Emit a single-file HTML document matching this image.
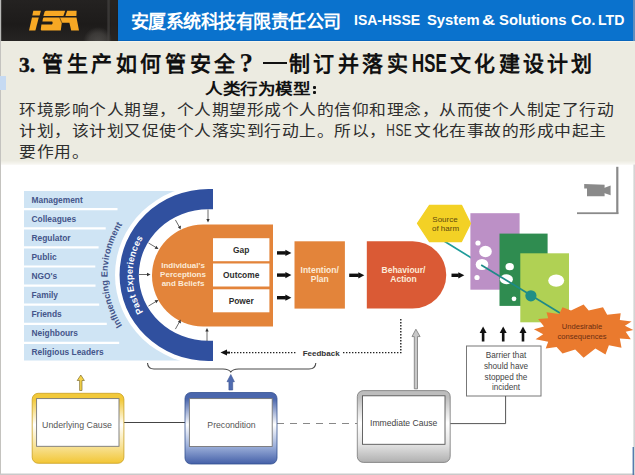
<!DOCTYPE html>
<html lang="zh-CN">
<head>
<meta charset="utf-8">
<style>
html,body{margin:0;padding:0;}
body{width:635px;height:475px;position:relative;overflow:hidden;background:#ECEBE1;font-family:"Liberation Sans",sans-serif;}
.abs{position:absolute;white-space:nowrap;}
#hdark{left:0;top:0;width:118px;height:40.5px;background:linear-gradient(180deg,#242221 0%,#1d1b1a 60%,#262423 100%);}
#hblue{left:118px;top:0;width:515px;height:41px;background:#0A72CD;box-shadow:inset 0 -1px 0 #0865BC;border-bottom:1.5px solid #F6F4EA;}
#hedge{left:633px;top:0;width:2px;height:41px;background:#5d8fc0;}
.cn{color:#fff;font-weight:bold;font-size:18px;letter-spacing:-0.55px;}
.en{color:#fff;font-weight:bold;font-size:14px;}
#title,#title1b,#title2{top:47px;font-size:21px;font-weight:bold;color:#111;letter-spacing:3.6px;}
#title2{letter-spacing:3.3px;}
#sub{left:204.5px;top:77px;font-size:15px;font-weight:bold;color:#111;letter-spacing:0px;transform:scaleX(1.17);transform-origin:0 0;}
.p{left:19px;font-size:15px;color:#2e2e2e;letter-spacing:0.63px;transform:scaleX(1.12);transform-origin:0 0;}
</style>
</head>
<body>
<div id="hdark" class="abs"></div>
<div id="hblue" class="abs"></div>
<div id="hedge" class="abs"></div>
<!-- ISA logo -->
<svg class="abs" style="left:0;top:0" width="118" height="41" viewBox="0 0 118 41">
  <defs>
    <radialGradient id="glare" cx="98" cy="42" r="15" gradientUnits="userSpaceOnUse">
      <stop offset="0" stop-color="#5a5855" stop-opacity="0.7"/><stop offset="0.6" stop-color="#5a5855" stop-opacity="0.45"/>
      <stop offset="1" stop-color="#5a5855" stop-opacity="0"/>
    </radialGradient>
  </defs>
  <rect x="70" y="15" width="48" height="26" fill="url(#glare)"/>
  <rect x="107.6" y="0" width="1" height="41" fill="#4a4846"/><rect x="109.3" y="0" width="0.8" height="41" fill="#3e3c3a"/><rect x="111" y="0" width="6.5" height="41" fill="#2a2420" opacity="0.6"/>
  <rect x="0" y="0" width="1.2" height="41" fill="#b8b8b6"/>
  <g fill="#F7A824">
    <polygon points="33.3,10.8 40.9,10.8 39.6,15.6 32.3,15.6"/>
    <polygon points="32,17.4 38.8,17.4 35.4,30.6 29,30.6"/>
    <path d="M 46.6 10.8 L 65.2 10.8 L 63.4 16 L 43.4 16 L 44.6 11.8 Q 45 10.8 46.6 10.8 Z"/>
    <polygon points="67.2,10.8 76.6,10.8 76.4,16 65.4,16"/>
    <path d="M 44.3 17.5 L 76.5 17.5 L 79 30.6 L 71.2 30.6 L 69.4 22.8 L 61.8 22.8 L 60.8 30.6 L 41.9 30.6 Q 40.6 30.6 40.8 29.2 L 41.4 24.4 L 52 24.4 Q 53.4 22.9 52.2 21.4 L 42.4 21.4 L 42.9 18.8 Q 43.1 17.5 44.3 17.5 Z"/>
  </g>
  <line x1="59.6" y1="17.4" x2="61.8" y2="22.8" stroke="#3a2a10" stroke-width="0.7"/>
</svg>
<div class="abs cn" style="left:131px;top:7px;">安厦系统科技有限责任公司</div>
<div class="abs en" style="left:354px;top:12px;">ISA-HSSE</div>
<div class="abs en" style="left:426.5px;top:12px;transform:scaleX(1.055);transform-origin:0 0;">System</div>
<div class="abs en" style="left:482px;top:12px;transform:scaleX(1.3);transform-origin:0 0;">&amp;</div>
<div class="abs en" style="left:498.5px;top:12px;transform:scaleX(1.06);transform-origin:0 0;">Solutions</div>
<div class="abs en" style="left:570.5px;top:12px;transform:scaleX(1.08);transform-origin:0 0;">Co.</div>
<div class="abs en" style="left:598px;top:12px;transform:scaleX(1.01);transform-origin:0 0;">LTD</div>
<div class="abs" style="left:0;top:41px;width:1px;height:434px;background:#c4c3bf;"></div>
<div class="abs" style="left:0;top:76px;width:6px;height:14px;background:#C6DAF2;"></div>

<div class="abs" style="left:19px;top:53px;font-family:'Liberation Serif',serif;font-size:21.5px;font-weight:bold;color:#111;-webkit-text-stroke:0.5px #111;">3.</div>
<div id="title" class="abs" style="left:42px;">管生产如何管安全</div>
<div class="abs" style="left:239.5px;top:48px;font-family:'Liberation Serif',serif;font-size:27px;font-weight:bold;color:#111;">?</div>
<div class="abs" style="left:262.8px;top:61.8px;width:24px;height:2.6px;background:#111;"></div>
<div id="title1b" class="abs" style="left:288.5px;">制订并落实</div>
<div class="abs" style="left:412px;top:49px;font-size:25.5px;font-weight:bold;color:#111;transform:scaleX(0.66);transform-origin:0 0;">HSE</div>
<div id="title2" class="abs" style="left:450px;">文化建设计划</div>
<div id="sub" class="abs">人类行为模型</div>
<div class="abs" style="left:313px;top:86.3px;width:3px;height:2.4px;border-radius:1px;background:#111;"></div><div class="abs" style="left:313px;top:91.4px;width:3px;height:2.4px;border-radius:1px;background:#111;"></div>
<div class="abs p" style="top:98px;">环境影响个人期望，个人期望形成个人的信仰和理念，从而使个人制定了行动</div>
<div class="abs p" style="top:119px;">计划，该计划又促使个人落实到行动上。所以，<span style="display:inline-block;font-size:15.8px;transform:scaleX(0.67);transform-origin:0 0;margin-right:-9.9px;">HSE</span>文化在事故的形成中起主</div>
<div class="abs p" style="top:140px;">要作用。</div>

<!-- diagram -->
<svg class="abs" style="left:0;top:0" width="635" height="475" viewBox="0 0 635 475" font-family="Liberation Sans, sans-serif">
  <defs><linearGradient id="redge" x1="0" y1="0" x2="1" y2="0"><stop offset="0" stop-color="#ececec"/><stop offset="1" stop-color="#cdcdcd"/></linearGradient>
  <linearGradient id="tedge" x1="0" y1="0" x2="0" y2="1"><stop offset="0" stop-color="#ECEBE1"/><stop offset="1" stop-color="#F8F7F2"/></linearGradient></defs>
  <rect x="1" y="160.5" width="634" height="4" fill="url(#tedge)"/>
  <rect x="1" y="164.5" width="634" height="310.5" fill="#fff"/>
  <rect x="633" y="164.5" width="2" height="310.5" fill="url(#redge)"/>
  <rect x="0" y="473.5" width="635" height="1.5" fill="#c9c9c9"/>
  <!-- light blue influencing block -->
  <rect x="24" y="191" width="190" height="169.5" fill="#CFE4F4"/>
  <ellipse cx="208.5" cy="275.0" rx="93.5" ry="90" fill="#fff"/>
  <g stroke="#fff" stroke-width="2.2">
    <line x1="24" y1="209.2" x2="117.5" y2="209.2"/>
    <line x1="24" y1="228.3" x2="105.7" y2="228.3"/>
    <line x1="24" y1="247.4" x2="98.6" y2="247.4"/>
    <line x1="24" y1="266.5" x2="95.3" y2="266.5"/>
    <line x1="24" y1="285.6" x2="95.5" y2="285.6"/>
    <line x1="24" y1="304.7" x2="99.2" y2="304.7"/>
    <line x1="24" y1="323.8" x2="106.8" y2="323.8"/>
    <line x1="24" y1="342.9" x2="119.2" y2="342.9"/>
  </g>
  <g fill="#44558A" font-size="8.4" font-weight="bold">
    <text x="31.5" y="202.5">Management</text>
    <text x="31.5" y="221.6">Colleagues</text>
    <text x="31.5" y="240.7">Regulator</text>
    <text x="31.5" y="259.8">Public</text>
    <text x="31.5" y="278.9">NGO's</text>
    <text x="31.5" y="298">Family</text>
    <text x="31.5" y="317.1">Friends</text>
    <text x="31.5" y="336.2">Neighbours</text>
    <text x="31.5" y="355.3">Religious Leaders</text>
  </g>
  <path id="arcInf" d="M 158.0 359.0 A 101.0 97.0 0 0 1 158.0 191.0" fill="none"/>
  <text fill="#44558A" font-size="9.1" font-weight="bold" letter-spacing="0"><textPath href="#arcInf" startOffset="50%" text-anchor="middle">Influencing Environment</textPath></text>
  <!-- dark blue ring -->
  <path d="M 213 189.0 L 208.5 189.0 A 89.0 86.0 0 0 0 208.5 361.0 L 213 361.0 L 213 340.8 L 208.5 340.8 A 69.7 65.8 0 0 1 208.5 209.2 L 213 209.2 Z" fill="#30509F"/>
  <path id="arcPast" d="M 170.5 337.8 A 76.0 72.5 0 0 1 170.5 212.2" fill="none"/>
  <text fill="#fff" font-size="9.2" font-weight="bold" letter-spacing="0.15"><textPath href="#arcPast" startOffset="50%" text-anchor="middle">Past Experiences</textPath></text>
  <!-- orange perceptions -->
  <path d="M 273 224.5 L 203 224.5 A 51 51 0 0 0 203 326.5 L 273 326.5 Z" fill="#E3843A"/>
  <g fill="#fff">
    <rect x="213" y="238.2" width="56.4" height="23"/>
    <rect x="213" y="263.5" width="56.4" height="23"/>
    <rect x="213" y="289.3" width="56.4" height="23"/>
  </g>
  <g fill="#2e2e2e" font-size="8.4" font-weight="bold" text-anchor="middle">
    <text x="241.2" y="253">Gap</text>
    <text x="241.2" y="278.3">Outcome</text>
    <text x="241.2" y="303.5">Power</text>
  </g>
  <g fill="#FCEBD8" font-size="8" font-weight="bold" text-anchor="middle">
    <text x="183" y="267.6">Individual's</text>
    <text x="183" y="277">Perceptions</text>
    <text x="183" y="286">and Beliefs</text>
  </g>
  <!-- small arrows from ring -->
  <g stroke="#444" stroke-width="0.8" fill="none">
    <line x1="208" y1="209.5" x2="208" y2="219.5"/>
    <line x1="175.4" y1="219.9" x2="179.4" y2="227"/>
    <line x1="148.5" y1="243" x2="155.5" y2="247.2"/>
    <line x1="139" y1="274.5" x2="147.5" y2="274.5"/>
    <line x1="148.5" y1="306" x2="155.5" y2="301.8"/>
    <line x1="175.4" y1="329.1" x2="179.4" y2="322"/>
    <line x1="207" y1="341" x2="207" y2="331"/>
  </g>
  <g fill="#333">
    <polygon points="206.3,219 209.7,219 208,222.5"/>
    <polygon points="177.9,227.2 180.9,225.6 180.6,229.4"/>
    <polygon points="154.6,248.8 156.3,245.8 158.5,249"/>
    <polygon points="147,272.8 147,276.2 150.5,274.5"/>
    <polygon points="154.6,300.2 156.3,303.2 158.5,300"/>
    <polygon points="177.9,321.8 180.9,323.4 180.6,319.6"/>
    <polygon points="205.3,331.5 208.7,331.5 207,328"/>
  </g>
  <!-- black arrows -->
  <g fill="#111">
    <rect x="277.0" y="251.2" width="8.9" height="3.4"/><polygon points="285.4,249.8 291.4,252.9 285.4,256.0"/>
    <rect x="277.0" y="273.4" width="8.9" height="3.4"/><polygon points="285.4,272.0 291.4,275.1 285.4,278.2"/>
    <rect x="277.0" y="296.0" width="8.9" height="3.4"/><polygon points="285.4,294.6 291.4,297.7 285.4,300.8"/>
    <rect x="349.2" y="273.6" width="9.6" height="3.4"/><polygon points="358.3,272.2 364.3,275.3 358.3,278.4"/>
    <rect x="451.5" y="273.6" width="7.3" height="3.4"/><polygon points="458.3,272.2 464.3,275.3 458.3,278.4"/>
  </g>
  <!-- intention -->
  <rect x="294.5" y="241.3" width="50.4" height="67.3" fill="#E3843A"/>
  <g fill="#FCEBD8" font-size="8.5" font-weight="bold" text-anchor="middle">
    <text x="319.7" y="273">Intention/</text>
    <text x="319.7" y="282">Plan</text>
  </g>
  <!-- behaviour -->
  <path d="M 366.8 241.3 L 412.6 241.3 A 33.65 33.65 0 0 1 412.6 308.6 L 366.8 308.6 Z" fill="#DA5A35"/>
  <g fill="#FCEBD8" font-size="8.5" font-weight="bold" text-anchor="middle">
    <text x="403.5" y="273">Behaviour/</text>
    <text x="403.5" y="282">Action</text>
  </g>
  <!-- teal line -->
  <line x1="444" y1="241" x2="472" y2="258.3" stroke="#1F9C9A" stroke-width="1.7"/>
  <!-- plates -->
  <rect x="470.4" y="213.2" width="49.2" height="76.5" fill="#BC90C6"/>
  <g fill="#fff">
    <circle cx="478" cy="243" r="2.6"/>
    <ellipse cx="485.5" cy="251.5" rx="6.3" ry="5.8"/>
    <ellipse cx="482" cy="264.5" rx="6.3" ry="5.5"/>
    <circle cx="477" cy="277.5" r="2.6"/>
  </g>
  <rect x="499.5" y="233.6" width="48.1" height="72.3" fill="#2F8C50"/>
  <g fill="#fff">
    <ellipse cx="509.7" cy="266.7" rx="4.2" ry="3.6"/>
    <ellipse cx="506.4" cy="279.3" rx="6.5" ry="5"/>
    <circle cx="514" cy="298.8" r="2.4"/>
  </g>
  <rect x="520.3" y="253.3" width="48.7" height="69" fill="#B0D154"/>
  <ellipse cx="556.2" cy="280.6" rx="8" ry="6.2" fill="#fff"/>
  <line x1="481.2" y1="265" x2="562" y2="314.2" stroke="#1E8A88" stroke-width="1.8"/>
  <circle cx="530.9" cy="295.8" r="5.6" fill="#1F8F86"/>
  <!-- hexagon -->
  <polygon points="417.5,223.4 429.5,205.3 461.5,205.3 470.5,223.4 461.5,241.6 429.5,241.6" fill="#F3D125" stroke="#F3D125" stroke-width="1.2" stroke-linejoin="round"/>
  <g fill="#5E4A0E" font-size="8" text-anchor="middle">
    <text x="445" y="221.5">Source</text>
    <text x="445.5" y="231">of harm</text>
  </g>
  <!-- explosion -->
  <polygon id="boom" fill="#EA7A2E" points="533.9,329.2 544.0,326.6 538.1,319.1 548.2,318.2 546.5,312.3 559.2,314.0 562.5,307.3 571.0,310.6 583.6,304.4 588.7,310.6 603.0,307.3 607.2,314.8 620.7,313.2 619.8,319.9 631.6,321.6 624.9,325.8 633.3,330.0 625.7,331.7 630.8,339.3 619.8,338.4 621.5,347.7 608.9,345.2 605.5,354.4 595.4,348.5 583.6,357.8 575.2,349.4 562.5,353.6 556.6,346.9 545.7,348.5 548.2,341.8 535.6,339.3 543.2,334.2"/>
  <g fill="#6A2E12" font-size="7.6" text-anchor="middle">
    <text x="582" y="329.3">Undesirable</text>
    <text x="582" y="338.8">consequences</text>
  </g>
  <!-- camera -->
  <g fill="#8A8A8A">
    <polygon points="584.2,184 604.6,184.8 604.6,196.2 587,196.2 587,188.6 584.2,188.6"/>
    <polygon points="604,188 610.6,185.6 610.6,195.2 604,193"/>
    <rect x="616.2" y="166.8" width="2.2" height="47"/>
    <rect x="577" y="212.3" width="41.4" height="1.8"/>
  </g>
  <!-- three up arrows -->
  <g fill="#111">
    <rect x="481.8" y="331.5" width="2.6" height="10"/><polygon points="479.6,333 483.1,326.6 486.6,333"/>
    <rect x="501.9" y="331.5" width="2.6" height="10"/><polygon points="499.7,333 503.2,326.6 506.7,333"/>
    <rect x="521.7" y="331.5" width="2.6" height="10"/><polygon points="519.5,333 523,326.6 526.5,333"/>
  </g>
  <!-- barrier box -->
  <rect x="466.5" y="346" width="74.5" height="50" fill="#fff" stroke="#777" stroke-width="1"/>
  <g fill="#444" font-size="8.2" text-anchor="middle">
    <text x="506" y="358">Barrier that</text>
    <text x="506" y="368.7">should have</text>
    <text x="506" y="379.6">stopped the</text>
    <text x="506" y="390">incident</text>
  </g>
  <!-- brace -->
  <path d="M 147.5 363 Q 147.8 369 154 369 L 223 369 Q 229 369.2 230.8 372 Q 232.6 369.2 238.6 369 L 309 369 Q 315.5 369 315.8 363" fill="none" stroke="#4a4a4a" stroke-width="1.1"/>
  <!-- feedback -->
  <polygon points="220.5,352.6 227,349.6 227,355.6" fill="#111"/>
  <rect x="226" y="351.6" width="4" height="2" fill="#111"/>
  <line x1="231" y1="352.6" x2="296" y2="352.6" stroke="#222" stroke-width="1.4" stroke-dasharray="1.4,1.6"/>
  <text x="302.7" y="355.5" fill="#333" font-size="8" font-weight="bold">Feedback</text>
  <path d="M 343 352.6 L 400.8 352.6 L 400.8 317.5" fill="none" stroke="#222" stroke-width="1.4" stroke-dasharray="1.4,1.6"/>
  <!-- gray hollow arrow -->
  <path d="M 414.3 388.8 L 414.3 336.6 L 412 336.6 L 415.9 329.2 L 420.1 336.6 L 417.5 336.6 L 417.5 388.8 Z" fill="#c8c8c8" stroke="#777" stroke-width="0.8"/>
  <!-- blue arrow -->
  <path d="M 228.9 390 L 228.9 381.7 L 227 381.7 L 230.8 374.5 L 234.4 381.7 L 232.7 381.7 L 232.7 390 Z" fill="#4F6BB0" stroke="#3a5190" stroke-width="0.6"/>
  <!-- yellow arrow -->
  <path d="M 79.6 390.5 L 79.6 380.5 L 77.2 380.5 L 80.8 375 L 84.4 380.5 L 82 380.5 L 82 390.5 Z" fill="#F6D34A" stroke="#6a5a20" stroke-width="0.6"/>
  <!-- bottom boxes -->
  <defs>
    <linearGradient id="gy" x1="0" y1="0" x2="0" y2="1">
      <stop offset="0" stop-color="#F2C93A"/>
      <stop offset="0.09" stop-color="#F2C93A"/>
      <stop offset="0.45" stop-color="#FFFFFF"/>
      <stop offset="0.75" stop-color="#F8E39A"/>
      <stop offset="1" stop-color="#F2C635"/>
    </linearGradient>
    <linearGradient id="gb" x1="0" y1="0" x2="0" y2="1">
      <stop offset="0" stop-color="#4A66AC"/>
      <stop offset="0.09" stop-color="#4A66AC"/>
      <stop offset="0.45" stop-color="#FFFFFF"/>
      <stop offset="0.75" stop-color="#9DB0DA"/>
      <stop offset="1" stop-color="#4460A8"/>
    </linearGradient>
    <linearGradient id="gg" x1="0" y1="0" x2="0" y2="1">
      <stop offset="0" stop-color="#BDBDBD"/>
      <stop offset="0.09" stop-color="#BDBDBD"/>
      <stop offset="0.45" stop-color="#FFFFFF"/>
      <stop offset="0.75" stop-color="#E3E3E3"/>
      <stop offset="1" stop-color="#B0B0B0"/>
    </linearGradient>
  </defs>
  <line x1="124" y1="422.5" x2="185" y2="422.5" stroke="#444" stroke-width="1"/>
  <line x1="277" y1="423.5" x2="357" y2="423.5" stroke="#888" stroke-width="1" stroke-dasharray="7,6"/>
  <path d="M 450 423.6 L 505.6 423.6 L 505.6 396" fill="none" stroke="#555" stroke-width="1"/>
  <rect x="32.2" y="393.3" width="91.7" height="70" rx="6" fill="url(#gy)" stroke="#C9A020" stroke-width="0.8"/>
  <rect x="36.6" y="398.6" width="82.4" height="47.7" fill="#fff" stroke="#777" stroke-width="0.9"/>
  <text x="77" y="428.4" fill="#555" font-size="8.8" text-anchor="middle">Underlying Cause</text>
  <rect x="185" y="392.5" width="92" height="71.5" rx="6" fill="url(#gb)" stroke="#34508f" stroke-width="0.8"/>
  <rect x="189.4" y="398.6" width="82.8" height="47.9" fill="#fff" stroke="#777" stroke-width="0.9"/>
  <text x="231.5" y="428.4" fill="#555" font-size="8.7" text-anchor="middle">Precondition</text>
  <rect x="357.3" y="390.6" width="92.9" height="71.8" rx="6" fill="url(#gg)" stroke="#777" stroke-width="0.8"/>
  <rect x="362.5" y="395.8" width="82.5" height="48.5" fill="#fff" stroke="#555" stroke-width="0.9"/>
  <text x="403.7" y="425.5" fill="#444" font-size="8.6" text-anchor="middle">Immediate Cause</text>
  <rect x="632.6" y="447" width="1.3" height="28" fill="#4570A8"/>
</svg>
</body>
</html>
